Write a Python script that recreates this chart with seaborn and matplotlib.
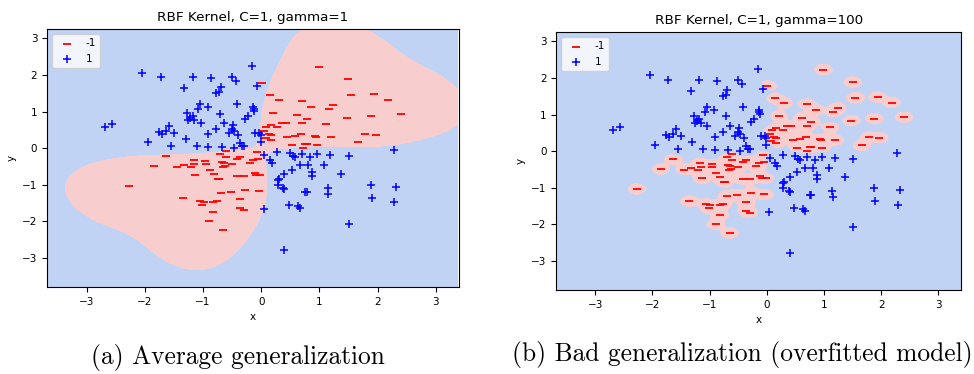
import numpy as np
import pandas as pd
import seaborn as sns
import matplotlib
matplotlib.use('Agg')
import matplotlib.pyplot as plt

# class 1 (blue +)
pos_x = [-2.04, -1.72, -1.18, -0.87, -0.50, -0.44, -0.15, -1.32, -0.69, -0.72,
         -0.77, -0.07, -0.41, -0.14, -0.13, -0.12, -1.05, -1.08, -0.92, -1.28,
         -1.18, -1.22, -1.25, -1.15, -2.68, -2.57, -1.59, -1.76, -1.71, -1.63,
         -1.50, -1.95, -1.55, -1.30, -1.11, -1.04, -0.71, -0.64, -0.77, -0.49,
         -0.50, -0.46, -0.27, -0.22, -0.91, -0.55, -0.40, -0.10, -0.03, -0.01,
         -0.01, -0.36, -0.33, -0.30, -0.91, -0.68, -0.46,
         0.05, 0.28, 0.15, 0.18, 0.50, 0.54, 0.58, 0.70, 0.84, 0.96,
         1.19, 1.51, 2.28, 0.67, 0.80, 1.08, 0.53, 0.40, 0.87, 0.88,
         1.37, 0.29, 0.31, 0.29, 0.38, 0.40, 0.76, 0.78, 1.14, 1.15,
         1.88, 2.32, 1.90, 2.29, 0.47, 0.64, 0.66, 0.04, 1.51, 0.40]
pos_y = [2.07, 1.94, 1.94, 1.91, 1.94, 1.84, 2.26, 1.65, 1.67, 1.55,
         1.50, 1.71, 1.22, 1.14, 1.07, 1.01, 1.21, 1.06, 1.12, 0.97,
         0.89, 0.82, 0.78, 0.78, 0.59, 0.65, 0.61, 0.45, 0.40, 0.47,
         0.43, 0.18, 0.07, 0.26, 0.05, 0.68, 0.95, 0.68, 0.53, 0.63,
         0.54, 0.48, 0.80, 0.88, 0.38, 0.41, 0.37, 0.41, 0.42, 0.36,
         0.16, 0.14, 0.07, 0.05, 0.04, 0.03, 0.01,
         -0.19, -0.10, -0.31, -0.40, -0.14, -0.20, -0.24, -0.16, -0.25, -0.16,
         -0.19, -0.21, -0.05, -0.47, -0.47, -0.46, -0.58, -0.69, -0.64, -0.76,
         -0.69, -0.87, -0.84, -0.99, -1.09, -1.12, -1.19, -1.20, -1.08, -1.24,
         -0.99, -1.07, -1.36, -1.46, -1.54, -1.59, -1.63, -1.66, -2.08, -2.79]

# class -1 (red -)
neg_x = [0.99, 1.50, 0.01, 0.15, 0.30, 1.55, 1.94, 2.18, 0.70, 0.86,
         1.24, 1.16, 0.21, 0.62, 0.78, 1.48, 1.88, 2.40, 0.36, 0.43,
         0.70, 0.17, 0.09, 0.28, 1.11, 0.05, 0.13, 0.16, 0.45, 0.58,
         0.68, 0.93, 0.95, 1.20, 1.78, 1.97, 0.08, 0.17, 1.66, 0.53,
         0.75, 0.78, 0.96, 0.71,
         -1.63, -1.85, -2.27, -1.44, -1.33, -1.16, -1.15, -1.20, -0.96, -0.95,
         -0.70, -0.61, -0.67, -0.64, -0.66, -0.63, -0.60, -0.51, -0.41, -0.37,
         -0.88, -0.81, -0.73, -0.75, -1.13, -0.42, -0.29, -0.19, -0.14, -0.05,
         -0.07, -0.11, -0.09, -0.02, -0.69, -0.52, -0.27, -0.04, -1.35, -1.06,
         -0.99, -1.01, -0.82, -0.76, -0.36, -0.36, -0.30, -0.82, -0.89, -0.65]
neg_y = [2.23, 1.89, 1.78, 1.45, 1.32, 1.46, 1.48, 1.33, 1.29, 1.14,
         1.19, 1.08, 0.97, 0.92, 0.81, 0.84, 0.89, 0.93, 0.70, 0.68,
         0.69, 0.63, 0.57, 0.59, 0.65, 0.48, 0.40, 0.37, 0.32, 0.34,
         0.39, 0.33, 0.31, 0.31, 0.39, 0.37, 0.29, 0.22, 0.16, 0.08,
         0.12, 0.12, 0.08, 0.01,
         -0.22, -0.49, -1.03, -0.50, -0.47, -0.32, -0.44, -0.52, -0.36, -0.42,
         -0.16, -0.07, -0.37, -0.41, -0.50, -0.49, -0.25, -0.44, -0.29, -0.25,
         -0.59, -0.70, -0.83, -0.84, -0.74, -0.76, -0.77, -0.41, -0.31, -0.30,
         -0.11, -0.68, -0.72, -0.74, -1.22, -1.19, -1.13, -1.18, -1.36, -1.43,
         -1.48, -1.56, -1.48, -1.43, -1.38, -1.62, -1.68, -1.74, -1.99, -2.23]

C = 1.0
gammas = [1, 100]
titles = ['RBF Kernel, C=1, gamma=1', 'RBF Kernel, C=1, gamma=100']
captions = ['(a) Average generalization', '(b) Bad generalization (overfitted model)']

X = np.column_stack([pos_x + neg_x, pos_y + neg_y])
y = np.array([1.0] * len(pos_x) + [-1.0] * len(neg_x))


def rbf(A, B, gamma):
    d2 = (A ** 2).sum(1)[:, None] + (B ** 2).sum(1)[None, :] - 2 * A @ B.T
    return np.exp(-gamma * np.maximum(d2, 0))


def fit_svm(X, y, gamma, C, n_iter=300):
    # dual coordinate descent, bias folded into the kernel (K + 1)
    Q = np.outer(y, y) * (rbf(X, X, gamma) + 1.0)
    alpha = np.zeros(len(y))
    grad = -np.ones(len(y))
    for _ in range(n_iter):
        for i in range(len(y)):
            new = min(max(alpha[i] - grad[i] / Q[i, i], 0.0), C)
            d = new - alpha[i]
            if d != 0.0:
                grad += d * Q[:, i]
                alpha[i] = new
    return alpha


def decision(P, X, y, alpha, gamma):
    out = []
    for chunk in np.array_split(P, 20):
        out.append((rbf(chunk, X, gamma) + 1.0) @ (alpha * y))
    return np.concatenate(out)


h = 0.02
x_min, x_max = X[:, 0].min() - 1, X[:, 0].max() + 1
y_min, y_max = X[:, 1].min() - 1, X[:, 1].max() + 1
xx, yy = np.meshgrid(np.arange(x_min, x_max, h), np.arange(y_min, y_max, h))
grid = np.c_[xx.ravel(), yy.ravel()]

df = pd.DataFrame({'x': X[:, 0], 'y': X[:, 1], 'label': y.astype(int)})

fig = plt.figure(figsize=(9.74, 3.74), dpi=100)
axes = [fig.add_axes([0.0483, 0.2326, 0.4230, 0.690]),
        fig.add_axes([0.571, 0.2246, 0.416, 0.690])]

for ax, gamma, title in zip(axes, gammas, titles):
    alpha = fit_svm(X, y, gamma, C)
    Z = decision(grid, X, y, alpha, gamma).reshape(xx.shape)
    ax.contourf(xx, yy, Z, levels=[-1e9, 0, 1e9], colors=['#F8CDCD', '#C1D3F5'])
    sns.scatterplot(data=df[df.label == -1], x='x', y='y', marker='_', color='red',
                    s=28, linewidth=1.3, label='-1', ax=ax)
    sns.scatterplot(data=df[df.label == 1], x='x', y='y', marker='+', color='blue',
                    s=28, linewidth=1.1, label='1', ax=ax)
    ax.set_xlim(x_min, x_max)
    ax.set_ylim(y_min, y_max)
    ax.set_title(title, fontsize=9.7)
    ax.set_xlabel('x', fontsize=7.5)
    ax.set_ylabel('y', fontsize=7.5)
    ax.tick_params(labelsize=7.5)
    ax.legend(loc='upper left', fontsize=7.5)

fig.text(0.244, 0.043, captions[0], ha='center', va='center', fontsize=18.3,
         family=['cmr10', 'DejaVu Serif'])
fig.text(0.762, 0.051, captions[1], ha='center', va='center', fontsize=18.3,
         family=['cmr10', 'DejaVu Serif'])

fig.savefig('out.png', dpi=100)
